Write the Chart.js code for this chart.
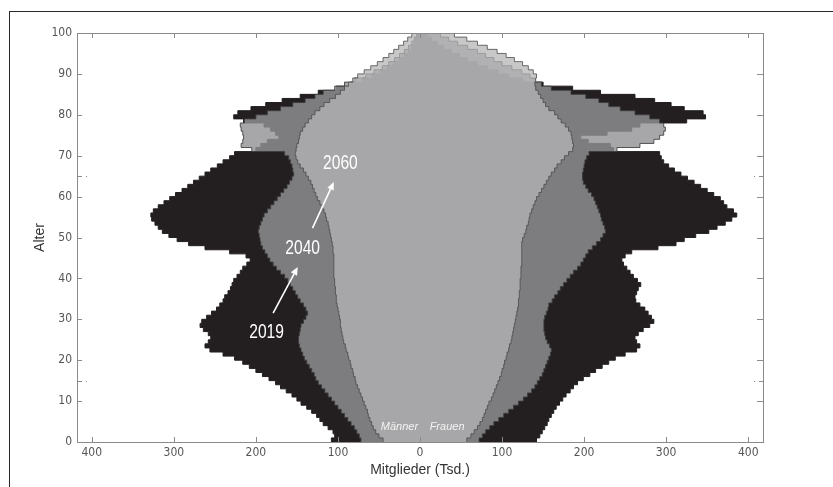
<!DOCTYPE html>
<html>
<head>
<meta charset="utf-8">
<title>Mitglieder nach Alter</title>
<script src="https://cdn.jsdelivr.net/npm/chart.js@4.4.1/dist/chart.umd.min.js"></script>
<style>
html, body { margin: 0; padding: 0; background: #fff; overflow: hidden; }
#wrap { position: relative; width: 833px; height: 487px; }
#frame { position: absolute; left: 9px; top: 11px; width: 840px; height: 490px;
         border-left: 1.5px solid #2b2b2b; border-top: 1.5px solid #2b2b2b; pointer-events: none; }
</style>
</head>
<body>
<div id="wrap"><canvas id="pyramid"></canvas><div id="frame"></div></div>
<script>
// Alter 0..100
var ages = [0,1,2,3,4,5,6,7,8,9,10,11,12,13,14,15,16,17,18,19,20,21,22,23,24,25,26,27,28,29,30,
  31,32,33,34,35,36,37,38,39,40,41,42,43,44,45,46,47,48,49,50,51,52,53,54,55,56,57,58,59,60,
  61,62,63,64,65,66,67,68,69,70,71,72,73,74,75,76,77,78,79,80,81,82,83,84,85,86,87,88,89,90,
  91,92,93,94,95,96,97,98,99,100];

// Männer (Tsd.)
var men2019 = [108,104,106,112,118,122,126,132,138,145,
  150,156,163,170,176,184,192,200,208,216,
  226,240,256,262,258,255,258,264,268,266,
  260,254,248,244,240,238,234,231,229,227,
  223,219,216,211,207,212,232,262,282,296,
  306,314,319,323,327,328,325,319,312,305,
  298,290,283,276,269,262,255,247,240,232,
  226,200,194,186,172,176,182,190,215,227,
  222,206,188,168,146,124,102,84,70,58,
  48,40,32,25,19,14,10,7,5,3,
  2];
var men2040 = [72,74,77,80,84,88,92,96,100,104,
  108,112,116,120,124,127,129,132,135,138,
  141,143,145,147,148,148,147,146,145,142,
  139,137,139,142,146,149,152,155,158,161,
  165,170,175,179,183,186,189,192,194,195,
  196,197,196,194,192,190,186,182,178,174,
  170,166,162,159,156,154,155,156,158,160,
  165,205,218,216,215,216,218,219,214,200,
  186,170,155,140,128,118,104,92,80,66,
  56,46,38,31,25,19,14,10,7,4,
  2];
var men2060 = [45,50,54,57,59,61,63,64,66,68,
  70,72,74,76,78,79,81,82,84,85,
  87,88,90,91,93,94,95,96,97,97,
  98,99,100,101,102,102,103,103,104,104,
  105,105,105,105,105,105,106,106,107,108,
  109,110,111,112,114,115,117,119,122,125,
  127,129,131,133,136,139,142,146,149,151,
  152,151,150,148,147,146,143,140,136,132,
  128,122,117,110,103,97,92,87,82,76,
  68,60,52,45,38,32,26,20,15,10,
  6];

// Frauen (Tsd.)
var women2019 = [142,146,149,152,155,157,160,163,166,170,
  174,178,183,187,192,199,207,214,222,230,
  238,250,264,268,264,262,266,272,280,285,
  282,278,274,268,263,262,264,266,269,265,
  260,256,252,248,246,250,258,290,312,322,
  336,352,362,372,380,386,382,374,370,366,
  358,350,342,334,326,318,310,303,297,294,
  292,236,232,205,196,228,258,268,325,348,
  345,322,306,286,262,220,186,150,125,108,
  95,82,70,58,48,38,29,21,14,9,
  5];
var women2040 = [72,76,80,85,90,96,102,108,114,120,
  126,131,136,140,143,146,149,151,153,155,
  157,159,160,158,155,153,152,151,151,151,
  152,154,156,157,161,164,168,171,175,179,
  183,187,192,196,199,202,205,210,215,220,
  223,226,225,223,221,220,218,216,214,212,
  209,205,202,199,198,198,199,200,201,203,
  206,240,268,285,292,297,299,297,292,280,
  262,244,230,218,202,184,160,148,140,134,
  124,112,100,90,80,70,58,46,35,25,
  16];
var women2060 = [57,62,66,70,73,76,78,80,82,84,
  87,89,91,93,95,97,99,100,102,103,
  105,106,108,109,111,112,113,114,115,116,
  117,118,119,120,120,121,121,122,122,122,
  123,123,123,124,124,124,124,124,124,125,
  127,129,130,132,133,134,136,138,140,142,
  145,148,151,154,157,160,164,167,172,176,
  181,186,187,186,185,184,181,177,172,168,
  164,157,153,150,147,144,141,140,141,142,
  138,132,125,115,105,94,82,70,57,42,
  30];

var xTicks = [-400, -300, -200, -100, 0, 100, 200, 300, 400];
var yTicks = [0, 10, 20, 30, 40, 50, 60, 70, 80, 90, 100];
var yMarks = [15, 65];

// Beschriftungen im Diagramm (Werte in Achsen-Einheiten)
var yearLabels = [
  { text: '2060', x: -97, y: 68.2 },
  { text: '2040', x: -143, y: 47.4 },
  { text: '2019', x: -187, y: 26.7 }
];
var yearArrows = [
  { from: [-179, 31.5], to: [-149, 42.8] },
  { from: [-131, 52.3], to: [-105, 63.6] }
];
var sexLabels = [
  { text: 'Männer', x: -25, y: 3.7 },
  { text: 'Frauen', x: 33, y: 3.7 }
];

var narrow = '"Liberation Sans Narrow", "DejaVu Sans Condensed", "Liberation Sans", sans-serif';

function side(values, sign) {
  return ages.map(function (a, i) { return { x: sign * values[i], y: a }; });
}

function layer(label, values, sign, fillColor, lineColor, order) {
  return {
    label: label,
    data: side(values, sign),
    indexAxis: 'y',
    stepped: 'after',
    fill: 'origin',
    backgroundColor: fillColor,
    borderColor: lineColor,
    borderWidth: 1,
    pointRadius: 0,
    order: order
  };
}

var black = '#231f20';
var fill2040 = 'rgba(147,147,149,0.81)';
var fill2060 = 'rgba(181,181,183,0.745)';
var line2040 = 'rgba(60,60,60,0.85)';
var line2060 = 'rgba(75,75,75,0.8)';

// schmal gesetzter Text (Schrift horizontal gestaucht)
function narrowText(ctx, text, x, y, squeeze) {
  ctx.save();
  ctx.translate(x, y);
  ctx.scale(squeeze, 1);
  ctx.fillText(text, 0, 0);
  ctx.restore();
}

var decorations = {
  id: 'decorations',
  afterDatasetsDraw: function (chart) {
    var ctx = chart.ctx, sx = chart.scales.x, sy = chart.scales.y;
    ctx.save();
    ctx.fillStyle = '#ffffff';
    ctx.strokeStyle = '#ffffff';
    ctx.textAlign = 'center';
    ctx.textBaseline = 'middle';
    ctx.font = '20px "Liberation Sans", Arial, sans-serif';
    yearLabels.forEach(function (l) {
      narrowText(ctx, l.text, sx.getPixelForValue(l.x), sy.getPixelForValue(l.y), 0.78);
    });
    ctx.lineWidth = 1.6;
    yearArrows.forEach(function (ar) {
      var x1 = sx.getPixelForValue(ar.from[0]), y1 = sy.getPixelForValue(ar.from[1]);
      var x2 = sx.getPixelForValue(ar.to[0]), y2 = sy.getPixelForValue(ar.to[1]);
      var ang = Math.atan2(y2 - y1, x2 - x1);
      var hx = x2 - 8 * Math.cos(ang), hy = y2 - 8 * Math.sin(ang);
      ctx.beginPath();
      ctx.moveTo(x1, y1);
      ctx.lineTo(hx, hy);
      ctx.stroke();
      ctx.beginPath();
      ctx.moveTo(x2, y2);
      ctx.lineTo(hx + 3.5 * Math.sin(ang), hy - 3.5 * Math.cos(ang));
      ctx.lineTo(hx - 3.5 * Math.sin(ang), hy + 3.5 * Math.cos(ang));
      ctx.closePath();
      ctx.fill();
    });
    ctx.font = 'italic 11px "Liberation Sans", Arial, sans-serif';
    ctx.fillStyle = '#f4f4f4';
    sexLabels.forEach(function (l) {
      ctx.fillText(l.text, sx.getPixelForValue(l.x), sy.getPixelForValue(l.y));
    });
    ctx.restore();
  },
  afterDraw: function (chart) {
    var ctx = chart.ctx, a = chart.chartArea, sx = chart.scales.x, sy = chart.scales.y;
    ctx.save();
    ctx.strokeStyle = '#8a8a8a';
    ctx.lineWidth = 1;
    ctx.strokeRect(a.left + 0.5, a.top + 0.5, a.right - a.left, a.bottom - a.top);
    ctx.beginPath();
    xTicks.forEach(function (v) {
      var px = Math.round(sx.getPixelForValue(v)) + 0.5;
      ctx.moveTo(px, a.bottom); ctx.lineTo(px, a.bottom - 5);
      ctx.moveTo(px, a.top); ctx.lineTo(px, a.top + 5);
    });
    yTicks.forEach(function (v) {
      var py = Math.round(sy.getPixelForValue(v)) + 0.5;
      ctx.moveTo(a.left, py); ctx.lineTo(a.left + 5, py);
      ctx.moveTo(a.right, py); ctx.lineTo(a.right - 6, py);
    });
    ctx.stroke();
    ctx.setLineDash([5, 4, 1, 20]);
    ctx.beginPath();
    yMarks.forEach(function (v) {
      var py = Math.round(sy.getPixelForValue(v)) + 0.5;
      ctx.moveTo(a.left, py); ctx.lineTo(a.left + 11, py);
      ctx.moveTo(a.right + 1, py); ctx.lineTo(a.right - 10, py);
    });
    ctx.stroke();
    ctx.restore();
  }
};

var ctx = document.getElementById('pyramid').getContext('2d');
var chart = new Chart(ctx, {
  type: 'line',
  data: {
    datasets: [
      layer('2060 Männer', men2060, -1, fill2060, line2060, 1),
      layer('2060 Frauen', women2060, 1, fill2060, line2060, 1),
      layer('2040 Männer', men2040, -1, fill2040, line2040, 2),
      layer('2040 Frauen', women2040, 1, fill2040, line2040, 2),
      layer('2019 Männer', men2019, -1, black, black, 3),
      layer('2019 Frauen', women2019, 1, black, black, 3)
    ]
  },
  options: {
    indexAxis: 'y',
    responsive: true,
    maintainAspectRatio: false,
    animation: false,
    events: [],
    layout: { padding: { top: 33, right: 70, left: 0, bottom: 0 } },
    plugins: {
      legend: { display: false },
      tooltip: { enabled: false }
    },
    scales: {
      x: {
        type: 'linear',
        position: 'bottom',
        min: -418,
        max: 418,
        grid: { display: false, tickLength: 0 },
        border: { display: false },
        afterBuildTicks: function (s) { s.ticks = xTicks.map(function (v) { return { value: v }; }); },
        afterFit: function (s) { s.height = 45; },
        ticks: {
          padding: 4,
          color: '#555',
          font: { family: narrow, size: 12 },
          maxRotation: 0,
          callback: function (v) { return String(Math.abs(v)); }
        },
        title: {
          display: true,
          text: 'Mitglieder (Tsd.)',
          color: '#333',
          font: { family: '"Liberation Sans", Arial, sans-serif', size: 14 },
          padding: { top: 0, bottom: 8.6 }
        }
      },
      y: {
        type: 'linear',
        position: 'left',
        min: 0,
        max: 100,
        grid: { display: false, tickLength: 0 },
        border: { display: false },
        afterBuildTicks: function (s) { s.ticks = yTicks.map(function (v) { return { value: v }; }); },
        afterFit: function (s) { s.width = 77; },
        ticks: {
          padding: 5,
          color: '#555',
          font: { family: narrow, size: 12 }
        },
        title: {
          display: true,
          text: 'Alter',
          color: '#333',
          font: { family: '"Liberation Sans", Arial, sans-serif', size: 14 },
          padding: { top: 32, bottom: 0 }
        }
      }
    }
  },
  plugins: [decorations]
});
</script>
</body>
</html>
